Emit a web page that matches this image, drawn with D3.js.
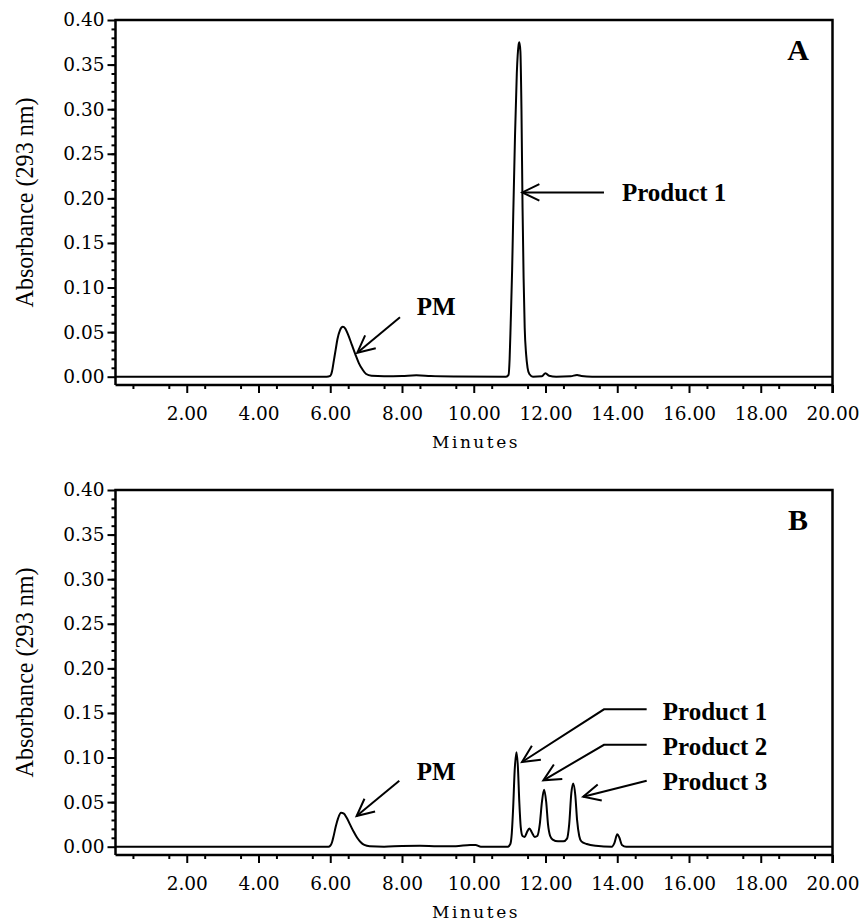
<!DOCTYPE html>
<html>
<head>
<meta charset="utf-8">
<script src="https://cdn.jsdelivr.net/npm/d3@7"></script>
<style>
  body { margin: 0; background: #fff; }
</style>
</head>
<body>
<div id="chart"></div>
<script>
// Chromatogram values (minutes, absorbance at 293 nm)
var minutesA = [0, 5.9, 6.0, 6.05, 6.1, 6.15, 6.2, 6.27, 6.35, 6.42, 6.5, 6.6, 6.7, 6.8, 6.9, 7.0, 7.15, 7.5, 8.0, 8.4, 8.8, 9.5,
  10.9, 10.97, 11.0, 11.03, 11.07, 11.1, 11.15, 11.2, 11.25, 11.27, 11.3, 11.33, 11.36, 11.39, 11.42, 11.46, 11.5, 11.55, 11.65,
  11.9, 12.0, 12.1, 12.3, 12.7, 12.88, 13.0, 13.3, 20];
var absorbanceA = [0, 0, 0.001, 0.006, 0.018, 0.030, 0.042, 0.052, 0.056, 0.054, 0.047, 0.036, 0.025, 0.015, 0.008, 0.003, 0.001, 0.0005, 0.0008, 0.0015, 0.0008, 0.0003,
  0, 0.002, 0.02, 0.06, 0.12, 0.18, 0.27, 0.34, 0.372, 0.375, 0.365, 0.30, 0.19, 0.11, 0.055, 0.025, 0.01, 0.003, 0,
  0.0005, 0.004, 0.001, 0, 0.0005, 0.002, 0.0008, 0, 0];

var minutesB = [0, 5.95, 6.0, 6.05, 6.1, 6.15, 6.22, 6.3, 6.38, 6.45, 6.55, 6.65, 6.75, 6.85, 6.95, 7.1, 7.5, 8.0, 8.5, 9.0, 9.5, 9.9, 10.05, 10.2,
  10.95, 11.02, 11.06, 11.1, 11.14, 11.19, 11.23, 11.27, 11.31, 11.36, 11.42, 11.48, 11.55, 11.62, 11.7, 11.77, 11.84, 11.9, 11.96,
  12.02, 12.07, 12.13, 12.2, 12.35, 12.5, 12.6, 12.66, 12.72, 12.77, 12.83, 12.88, 12.94, 13.0, 13.15, 13.4,
  13.85, 13.92, 14.0, 14.06, 14.13, 14.25, 20];
var absorbanceB = [0, 0, 0.001, 0.005, 0.013, 0.022, 0.032, 0.038, 0.037, 0.033, 0.025, 0.017, 0.010, 0.005, 0.002, 0.0005, 0, 0.0008, 0.001, 0.0005, 0.0005, 0.002, 0.002, 0,
  0, 0.003, 0.015, 0.045, 0.085, 0.106, 0.09, 0.05, 0.022, 0.012, 0.011, 0.016, 0.0205, 0.016, 0.011, 0.012, 0.025, 0.05, 0.064,
  0.05, 0.025, 0.012, 0.008, 0.006, 0.006, 0.009, 0.025, 0.06, 0.071, 0.058, 0.03, 0.012, 0.006, 0.003, 0.001,
  0, 0.004, 0.014, 0.01, 0.002, 0, 0];

var xMajorTicks = [2, 4, 6, 8, 10, 12, 14, 16, 18, 20];
var yMajorTicks = [0, 0.05, 0.10, 0.15, 0.20, 0.25, 0.30, 0.35, 0.40];

// Annotations, anchored in data units: [minutes, absorbance] points, the last one is the arrow tip
var notesA = [
  { label: 'PM', text: [8.41, 0.0692], path: [[7.944, 0.0666], [6.754, 0.0269]] },
  { label: 'Product 1', text: [14.13, 0.197], path: [[13.63, 0.2067], [11.353, 0.2067]] }
];
var notesB = [
  { label: 'PM', text: [8.41, 0.0748], path: [[7.925, 0.074], [6.735, 0.0344]] },
  { label: 'Product 1', text: [15.27, 0.1421], path: [[14.82, 0.154], [13.63, 0.154], [11.345, 0.095]] },
  { label: 'Product 2', text: [15.27, 0.1031], path: [[14.82, 0.1143], [13.63, 0.1143], [11.94, 0.0744]] },
  { label: 'Product 3', text: [15.27, 0.0636], path: [[14.82, 0.074], [13.05, 0.0561]] }
];

var panels = [
  { letter: 'A', minutes: minutesA, absorbance: absorbanceA, notes: notesA },
  { letter: 'B', minutes: minutesB, absorbance: absorbanceB, notes: notesB }
];

const width = 863;
const height = 924;
const panelShift = 470;
const plot = { left: 115.5, right: 832.5, top: 20, zero: 376.7, axis: 385 };

var svg = d3.select('#chart')
  .append('svg')
  .attr('width', width)
  .attr('height', height);

var scaleX = d3.scaleLinear()
  .domain([0, 20])
  .range([plot.left - 0.5, plot.right]);

function drawArrow(g, pts) {
  g.append('path')
    .attr('d', d3.line()(pts))
    .attr('fill', 'none')
    .attr('stroke', '#000')
    .attr('stroke-width', 2);
  var tip = pts[pts.length - 1];
  var prev = pts[pts.length - 2];
  var ang = Math.atan2(prev[1] - tip[1], prev[0] - tip[0]);
  var len = 19, spread = 26 * Math.PI / 180;
  var head = [
    [tip[0] + len * Math.cos(ang + spread), tip[1] + len * Math.sin(ang + spread)],
    tip,
    [tip[0] + len * Math.cos(ang - spread), tip[1] + len * Math.sin(ang - spread)]
  ];
  g.append('path')
    .attr('d', d3.line()(head))
    .attr('fill', 'none')
    .attr('stroke', '#000')
    .attr('stroke-width', 2);
}

panels.forEach(function (p, i) {
  var off = i * panelShift;
  var g = svg.append('g').attr('transform', 'translate(0,' + off + ')');

  var scaleY = d3.scaleLinear()
    .domain([0, 0.40])
    .range([plot.zero, plot.top]);

  // x axis: major + minor ticks
  var axisX = d3.axisBottom(scaleX)
    .tickValues(xMajorTicks)
    .tickSize(8)
    .tickPadding(14)
    .tickFormat(d3.format('.2f'));
  var axisXMinor = d3.axisBottom(scaleX)
    .tickValues(d3.range(1, 40, 2).map(function (d) { return d / 2; }))
    .tickSize(4)
    .tickFormat('');

  g.append('g')
    .attr('transform', 'translate(0,' + plot.axis + ')')
    .call(axisX);
  g.append('g')
    .attr('transform', 'translate(0,' + plot.axis + ')')
    .call(axisXMinor);

  // y axis
  var axisY = d3.axisLeft(scaleY)
    .tickValues(yMajorTicks)
    .tickSize(8)
    .tickPadding(3)
    .tickFormat(d3.format('.2f'));
  var axisYMinor = d3.axisLeft(scaleY)
    .tickValues(d3.range(1, 40).map(function (d) { return d / 100; }))
    .tickSize(4)
    .tickFormat('');

  g.append('g')
    .attr('transform', 'translate(' + plot.left + ',0)')
    .call(axisY);
  g.append('g')
    .attr('transform', 'translate(' + plot.left + ',0)')
    .call(axisYMinor);

  g.selectAll('.domain').remove();
  g.selectAll('.tick line').attr('stroke', '#000').attr('stroke-width', 2);
  g.selectAll('.tick text')
    .attr('fill', '#000')
    .style('font-family', '"DejaVu Serif", serif')
    .style('font-size', '18.5px');

  // frame
  var frame = [
    [plot.left, plot.axis], [plot.left, plot.top], [plot.right, plot.top], [plot.right, plot.axis + 8]
  ];
  g.append('path')
    .attr('d', d3.line()(frame))
    .attr('fill', 'none')
    .attr('stroke', '#000')
    .attr('stroke-width', 2.5);
  g.append('line')
    .attr('x1', plot.left).attr('x2', plot.right)
    .attr('y1', plot.axis).attr('y2', plot.axis)
    .attr('stroke', '#000')
    .attr('stroke-width', 2.5);

  // trace
  var points = p.minutes.map(function (m, k) { return [m, p.absorbance[k]]; });
  var lineFunc = d3.line()
    .x(function (d) { return scaleX(d[0]); })
    .y(function (d) { return scaleY(d[1]); })
    .curve(d3.curveMonotoneX);
  g.append('path')
    .attr('d', lineFunc(points))
    .attr('fill', 'none')
    .attr('stroke', '#000')
    .attr('stroke-width', 2)
    .attr('stroke-linejoin', 'round');

  // annotations
  p.notes.forEach(function (n) {
    drawArrow(g, n.path.map(function (d) { return [scaleX(d[0]), scaleY(d[1])]; }));
    g.append('text')
      .attr('x', scaleX(n.text[0]))
      .attr('y', scaleY(n.text[1]))
      .attr('font-family', '"Liberation Serif", "Times New Roman", serif')
      .attr('font-weight', 'bold')
      .attr('font-size', 25)
      .text(n.label);
  });

  g.append('text')
    .attr('x', scaleX(19.04))
    .attr('y', scaleY(0.355))
    .attr('text-anchor', 'middle')
    .attr('font-family', '"Liberation Serif", "Times New Roman", serif')
    .attr('font-weight', 'bold')
    .attr('font-size', 30)
    .text(p.letter);

  // axis titles
  g.append('text')
    .attr('transform', 'translate(33,' + ((plot.top + plot.axis) / 2) + ') rotate(-90)')
    .attr('text-anchor', 'middle')
    .attr('font-family', '"Liberation Serif", "Times New Roman", serif')
    .attr('font-size', 26)
    .attr('textLength', 210)
    .attr('lengthAdjust', 'spacingAndGlyphs')
    .text('Absorbance (293 nm)');

  g.append('text')
    .attr('x', 476)
    .attr('y', 448)
    .attr('text-anchor', 'middle')
    .attr('font-family', '"DejaVu Serif", serif')
    .attr('font-size', 17)
    .attr('letter-spacing', 2.5)
    .text('Minutes');
});
</script>
</body>
</html>
